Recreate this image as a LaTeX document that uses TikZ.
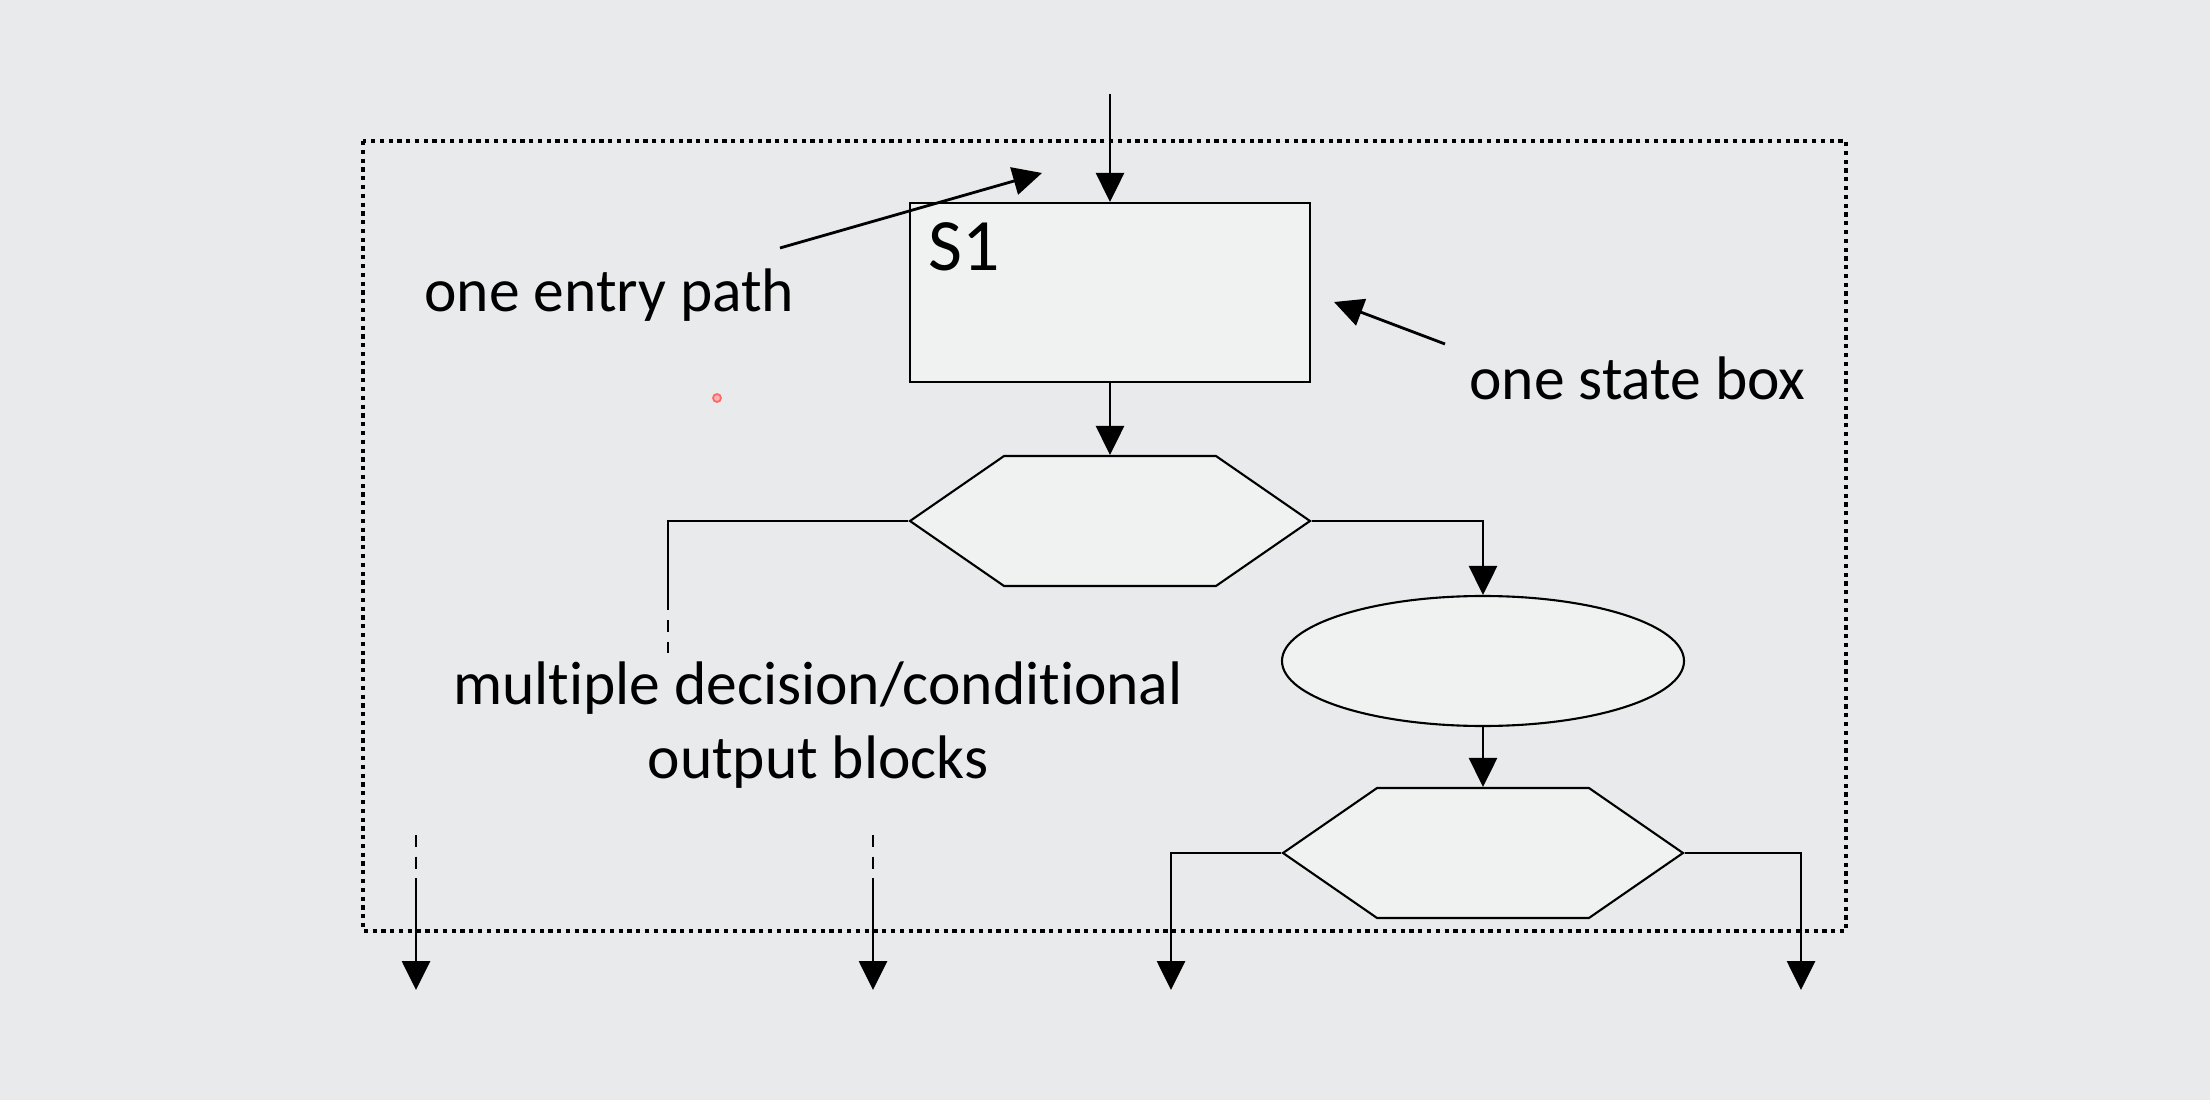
\documentclass[tikz,border=0pt]{standalone}
\usepackage{fontspec}
\setmainfont[Ligatures=NoCommon]{Carlito}
\usetikzlibrary{arrows.meta, shapes.geometric, shapes.symbols}
\definecolor{fondo}{RGB}{233,234,235}

\begin{document}
\begin{tikzpicture}[>={Triangle[length=2.9mm, width=2.8mm]}, line width=0.8pt,
  caja/.style={draw, line width=0.6pt, fill=white, fill opacity=0.35, text opacity=1, inner sep=0},
  decision/.style={caja, shape=signal, signal to=west and east, signal pointer angle=69.3, minimum width=4cm, minimum height=1.3cm},
  salida/.style={caja, ellipse, minimum width=4.02cm, minimum height=1.3cm},
  texto/.style={font=\fontsize{17.5}{20.8}\selectfont, inner sep=0},
  corte/.style={dash pattern=on 1.2mm off 0.95mm},
  marco/.style={line width=1.1pt, dash pattern=on 1.2pt off 1.3pt}]
  % fondo
  \fill[fondo] (0,0) rectangle (22.1,-11);
  \useasboundingbox (0,0) rectangle (22.1,-11);
  % marco punteado
  \draw[marco] (3.63,-1.41) rectangle (18.46,-9.31);
  % bloques
  \node[caja, minimum width=4cm, minimum height=1.79cm] (s1) at (11.10,-2.925) {};
  \node[texto, font=\fontsize{21}{25}\selectfont, anchor=base west] (s1nombre) at (9.27,-2.71) {S1};
  \node[decision] (d1) at (11.10,-5.21) {};
  \node[salida] (o1) at (14.83,-6.61) {};
  \node[decision] (d2) at (14.83,-8.53) {};
  % etiquetas
  \node[texto, anchor=base west] (entrada) at (4.23,-3.12) {one entry path};
  \node[texto, anchor=base west] (estado) at (14.68,-4.00) {one state box};
  \node[texto, align=center, anchor=base] (bloques) at (8.18,-7.78) {multiple decision/conditional\\output blocks};
  % puntos libres
  \coordinate (arriba) at (11.10,-0.94);
  \coordinate (izq) at (6.68,-6.10);
  \coordinate (izqa) at (6.68,-6.20);
  \coordinate (izqb) at (6.68,-6.53);
  \coordinate (fin3) at (11.71,-9.90);
  \coordinate (fin4) at (18.01,-9.90);
  \coordinate (cortea) at (4.16,-8.35);
  \coordinate (medioa) at (4.16,-8.78);
  \coordinate (fin1) at (4.16,-9.90);
  \coordinate (corteb) at (8.73,-8.35);
  \coordinate (mediob) at (8.73,-8.78);
  \coordinate (fin2) at (8.73,-9.90);
  \coordinate (colaA) at (7.80,-2.48);
  \coordinate (puntaA) at (10.42,-1.73);
  \coordinate (colaB) at (14.45,-3.44);
  \coordinate (puntaB) at (13.34,-3.02);
  % conexiones
  \draw[->] (arriba) -- (s1.north);
  \draw[->] (s1.south) -- (d1.north);
  \draw[->] (d1.east) -| (o1.north);
  \draw[->] (o1.south) -- (d2.north);
  \draw (d1.west) -| (izq);
  \draw[corte] (izqa) -- (izqb);
  \draw[->] (d2.west) -| (fin3);
  \draw[->] (d2.east) -| (fin4);
  \draw[corte] (cortea) -- (4.16,-8.70);
  \draw[->] (medioa) -- (fin1);
  \draw[corte] (corteb) -- (8.73,-8.70);
  \draw[->] (mediob) -- (fin2);
  % flechas de las etiquetas
  \draw[->] (colaA) -- (puntaA);
  \draw[->] (colaB) -- (puntaB);
  % puntero
  \draw[red!60, fill=red!30, line width=0.5pt] (7.17,-3.98) circle (0.04);
\end{tikzpicture}
\end{document}
